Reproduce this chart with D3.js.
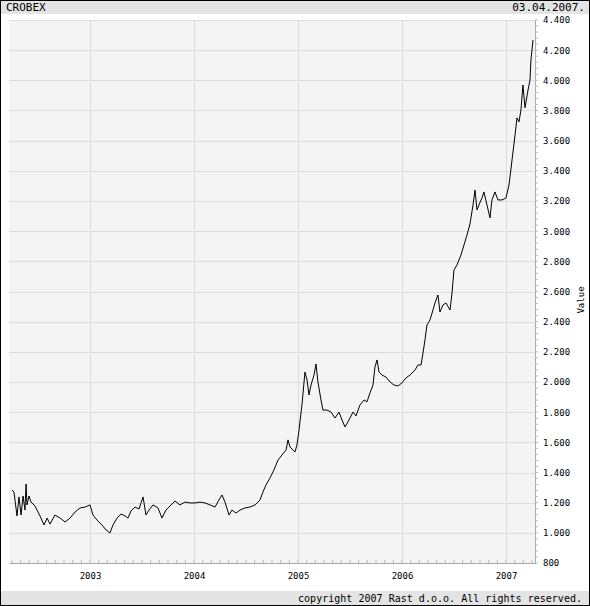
<!DOCTYPE html>
<html><head><meta charset="utf-8">
<script src="https://cdn.jsdelivr.net/npm/d3@7"></script>
<style>body{margin:0;background:#fff}svg{display:block}text{font-family:"DejaVu Sans Mono",monospace;fill:#000}</style>
</head><body><svg id="c" width="590" height="606"></svg>
<script>
const title = "CROBEX";
const dateLabel = "03.04.2007.";
const footer = "copyright 2007 Rast d.o.o. All rights reserved.";
const yearTicks = [2003, 2004, 2005, 2006, 2007];
const valueTicks = [800,1000,1200,1400,1600,1800,2000,2200,2400,2600,2800,3000,3200,3400,3600,3800,4000,4200,4400];
const years = [2002.25,2002.269,2002.298,2002.317,2002.337,2002.356,2002.375,2002.385,2002.394,2002.413,2002.433,2002.471,2002.519,2002.558,2002.587,2002.615,2002.663,2002.712,2002.760,2002.808,2002.856,2002.904,2002.952,2003.000,2003.029,2003.067,2003.115,2003.154,2003.192,2003.221,2003.260,2003.298,2003.337,2003.365,2003.394,2003.433,2003.471,2003.510,2003.538,2003.567,2003.606,2003.654,2003.692,2003.731,2003.769,2003.817,2003.865,2003.913,2003.962,2004.010,2004.058,2004.106,2004.154,2004.202,2004.240,2004.269,2004.298,2004.337,2004.365,2004.404,2004.442,2004.490,2004.538,2004.587,2004.635,2004.663,2004.692,2004.731,2004.769,2004.808,2004.846,2004.885,2004.904,2004.923,2004.952,2004.971,2004.990,2005.010,2005.038,2005.067,2005.087,2005.106,2005.125,2005.154,2005.173,2005.192,2005.221,2005.240,2005.279,2005.317,2005.356,2005.394,2005.423,2005.452,2005.490,2005.529,2005.558,2005.596,2005.635,2005.663,2005.692,2005.721,2005.740,2005.760,2005.779,2005.808,2005.846,2005.885,2005.923,2005.962,2006.000,2006.038,2006.077,2006.125,2006.154,2006.183,2006.202,2006.221,2006.240,2006.269,2006.298,2006.317,2006.346,2006.365,2006.394,2006.423,2006.462,2006.481,2006.500,2006.529,2006.567,2006.596,2006.625,2006.654,2006.683,2006.702,2006.721,2006.740,2006.769,2006.788,2006.817,2006.846,2006.865,2006.894,2006.923,2006.962,2007.000,2007.029,2007.058,2007.087,2007.106,2007.125,2007.144,2007.163,2007.183,2007.212,2007.231,2007.240,2007.260];
const values = [1284,1270,1112,1238,1118,1244,1151,1324,1185,1244,1204,1178,1112,1052,1098,1058,1118,1098,1072,1098,1138,1165,1171,1185,1118,1085,1052,1019,999,1052,1098,1125,1112,1098,1145,1171,1158,1238,1118,1151,1185,1165,1098,1151,1178,1211,1185,1204,1198,1198,1204,1198,1185,1171,1218,1251,1204,1118,1151,1131,1151,1165,1171,1185,1218,1271,1317,1364,1417,1483,1516,1549,1616,1569,1549,1536,1582,1682,1848,2066,2013,1914,1980,2046,2119,2000,1881,1814,1814,1801,1761,1801,1748,1702,1748,1801,1775,1848,1881,1868,1927,1980,2100,2146,2066,2046,2033,2000,1980,1974,1994,2027,2046,2079,2113,2113,2192,2279,2378,2411,2477,2524,2577,2464,2511,2524,2477,2590,2743,2776,2842,2908,2975,3048,3174,3273,3141,3174,3220,3260,3174,3088,3207,3260,3207,3207,3220,3306,3472,3638,3751,3725,3804,3969,3818,3936,4002,4135,4267];

const svg = d3.select("#c");
const W = 590, H = 606;
const L = 9, R = 535, T = 20, B = 563;
svg.append("rect").attr("x",0.5).attr("y",0.5).attr("width",W-1).attr("height",H-1).attr("fill","#fff").attr("stroke","#000");
svg.append("rect").attr("x",1).attr("y",1).attr("width",W-2).attr("height",13).attr("fill","#e4e4e4");
svg.append("rect").attr("x",1).attr("y",591).attr("width",W-2).attr("height",14).attr("fill","#e4e4e4");
svg.append("text").attr("x",6).attr("y",11).attr("font-size",11).text(title);
svg.append("text").attr("x",585).attr("y",11).attr("font-size",11).attr("text-anchor","end").text(dateLabel);
svg.append("text").attr("x",582).attr("y",602).attr("font-size",10).attr("textLength",284).attr("text-anchor","end").text(footer);

const x = d3.scaleLinear().domain([2002.221, 2007.279]).range([L, R]);
const y = d3.scaleLinear().domain([800, 4400]).range([B, T]);

svg.append("rect").attr("x",L).attr("y",T).attr("width",R-L).attr("height",B-T).attr("fill","#f4f4f4");
const g = svg.append("g");
g.selectAll(".hg").data(valueTicks).join("line").attr("x1",L).attr("x2",R).attr("y1",d=>Math.round(y(d))+0.5).attr("y2",d=>Math.round(y(d))+0.5).attr("stroke","#dcdcdc");
g.selectAll(".vg").data(yearTicks).join("line").attr("y1",T).attr("y2",B).attr("x1",d=>Math.round(x(d))+0.5).attr("x2",d=>Math.round(x(d))+0.5).attr("stroke","#dcdcdc");

const ya = d3.axisRight(y).tickValues(valueTicks).tickSize(0).tickPadding(8)
  .tickFormat(d=>d3.format(",")(d).replace(/,/g,"."));
const yg = svg.append("g").attr("transform",`translate(${R},0)`).call(ya);
yg.select(".domain").attr("stroke","#aaa");
yg.selectAll("text").attr("font-size",9).attr("font-family","DejaVu Sans Mono");
const minorV = d3.range(800, 4401, 40);
yg.selectAll(".mt").data(minorV).join("line").attr("x1",0).attr("x2",3).attr("y1",d=>y(d)).attr("y2",d=>y(d)).attr("stroke","#bbb");
const xa = d3.axisBottom(x).tickValues(yearTicks).tickSize(0).tickPadding(10).tickFormat(d3.format("d"));
const xg = svg.append("g").attr("transform",`translate(0,${B})`).call(xa);
xg.select(".domain").attr("stroke","#aaa");
xg.selectAll("text").attr("font-size",9).attr("font-family","DejaVu Sans Mono");
const minorH = d3.range(2002.25, 2007.28, 1/12);
xg.selectAll(".mt").data(minorH).join("line").attr("y1",0).attr("y2",-3).attr("x1",d=>x(d)).attr("x2",d=>x(d)).attr("stroke","#bbb");

svg.append("text").attr("transform","translate(584,300) rotate(-90)").attr("text-anchor","middle").attr("font-size",9).text("Value");

const pts = years.map((d,i)=>[d, values[i]]);
svg.append("path").datum(pts).attr("fill","none").attr("stroke","#000").attr("stroke-width",1)
  .attr("d", d3.line().x(d=>x(d[0])).y(d=>y(d[1])));
</script></body></html>
